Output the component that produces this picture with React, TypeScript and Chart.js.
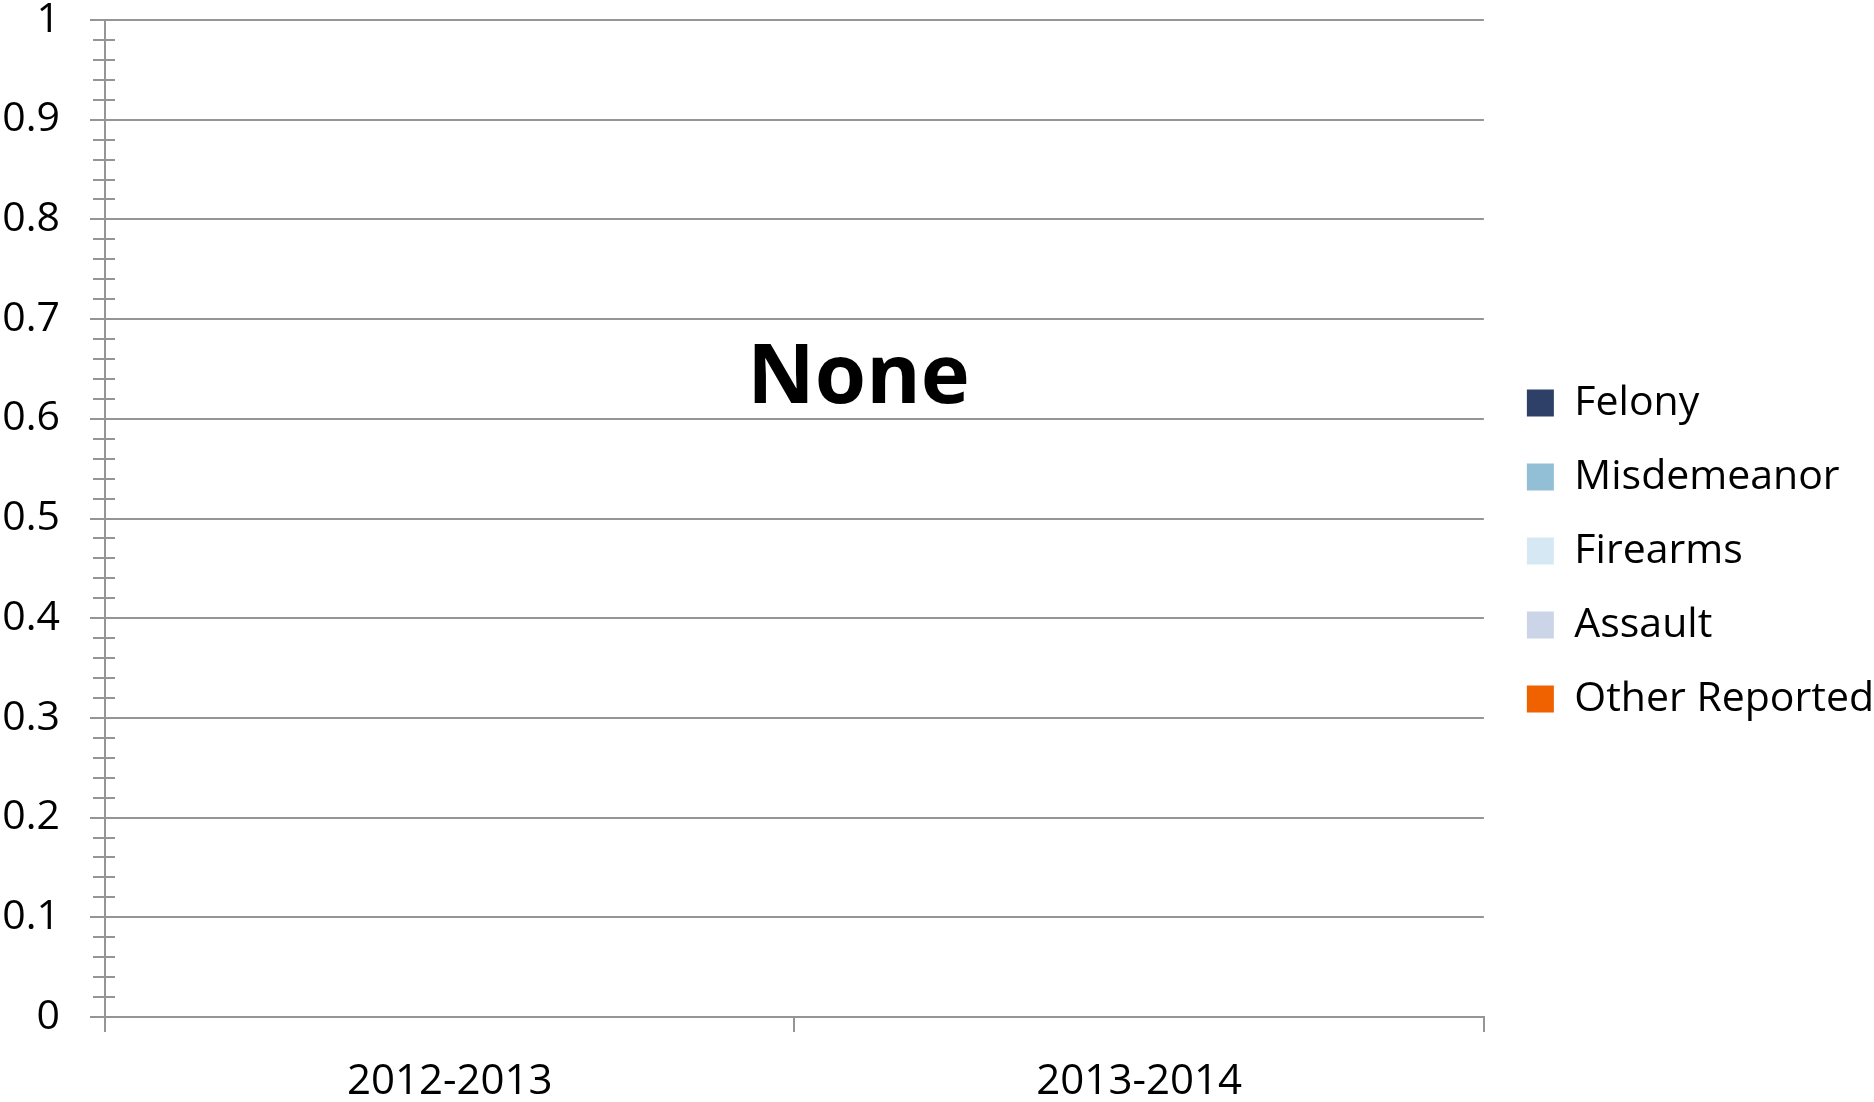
import React, { useEffect, useRef } from 'react';
import { Chart, registerables } from 'chart.js';

Chart.register(...registerables);

const categories = ['2012-2013', '2013-2014'];
const seriesNames = ['Felony', 'Misdemeanor', 'Firearms', 'Assault', 'Other Reported'];
const seriesColors = ['#2E4068', '#92BFD6', '#D7E8F5', '#CCD5E8', '#F06100'];
const felony = [0, 0];
const misdemeanor = [0, 0];
const firearms = [0, 0];
const assault = [0, 0];
const otherReported = [0, 0];
const seriesValues = [felony, misdemeanor, firearms, assault, otherReported];
const yTickLabels = ['0', '0.1', '0.2', '0.3', '0.4', '0.5', '0.6', '0.7', '0.8', '0.9', '1'];
const overlayText = 'None';

const FONT = "'Open Sans', sans-serif";
const GRID = '#959595';

const minorTicksPlugin = {
  id: 'minorTicks',
  afterDraw(chart: any) {
    const y = chart.scales.y;
    const ctx = chart.ctx;
    const x0 = chart.chartArea.left;
    ctx.save();
    ctx.strokeStyle = GRID;
    ctx.lineWidth = 2;
    for (let i = 0; i <= 50; i++) {
      if (i % 5 === 0) continue;
      const py = Math.round(y.getPixelForValue(i / 50));
      ctx.beginPath();
      ctx.moveTo(x0 - 12, py);
      ctx.lineTo(x0 + 10, py);
      ctx.stroke();
    }
    ctx.restore();
  },
};

const overlayPlugin = {
  id: 'overlayText',
  afterDraw(chart: any) {
    const { ctx, chartArea } = chart;
    const y = chart.scales.y;
    ctx.save();
    ctx.font = `bold 83px ${FONT}`;
    ctx.fillStyle = '#000';
    ctx.textAlign = 'center';
    ctx.textBaseline = 'alphabetic';
    ctx.fillText(overlayText, chartArea.left + chartArea.width * 0.5465, y.getPixelForValue(0.616));
    ctx.restore();
  },
};

// keeps a gap between the plot area and the legend keys
const legendGapPlugin = {
  id: 'legendGap',
  afterLayout(chart: any) {
    const l = chart.legend;
    if (l) {
      l.left += 10;
      l.right += 10;
    }
  },
};

export default function App() {
  const ref = useRef<HTMLCanvasElement | null>(null);
  useEffect(() => {
    let chart: any = null;
    let cancelled = false;
    const build = () => {
      if (cancelled || !ref.current) return;
      chart = new Chart(ref.current, {
        type: 'bar',
        data: {
          labels: categories,
          datasets: seriesNames.map((name, i) => ({
            label: name,
            data: seriesValues[i],
            backgroundColor: seriesColors[i],
            borderWidth: 0,
          })),
        },
        options: {
          responsive: false,
          animation: false,
          devicePixelRatio: 1,
          layout: { padding: 0 },
          plugins: {
            tooltip: { enabled: false },
            title: { display: false },
            legend: {
              position: 'right',
              align: 'center',
              labels: {
                boxWidth: 27,
                boxHeight: 27,
                padding: 33,
                color: '#000',
                font: { family: FONT, size: 41 },
              },
            },
          },
          scales: {
            x: {
              stacked: true,
              grid: { drawOnChartArea: false, drawTicks: true, tickLength: 15, color: GRID, lineWidth: 2, offset: true },
              border: { display: true, color: GRID, width: 2 },
              ticks: { color: '#000', padding: 25, font: { family: FONT, size: 42 } },
              afterFit: (s: any) => { s.height = 85; s.paddingLeft = 0; s.paddingRight = 0; },
            },
            y: {
              stacked: true,
              min: 0,
              max: 1,
              ticks: {
                stepSize: 0.1,
                color: '#000',
                padding: 30,
                font: { family: FONT, size: 41 },
                callback: (_v: any, i: number) => yTickLabels[i],
              },
              grid: { color: GRID, lineWidth: 2, tickLength: 15 },
              border: { display: true, color: GRID, width: 2 },
              afterFit: (s: any) => { s.width = 105; s.paddingTop = 20; s.paddingBottom = 0; },
            },
          },
        } as any,
        plugins: [minorTicksPlugin, overlayPlugin, legendGapPlugin],
      });
    };
    const fonts: any = (document as any).fonts;
    if (fonts && fonts.load) {
      Promise.all([
        fonts.load(`400 41px 'Open Sans'`),
        fonts.load(`bold 83px 'Open Sans'`),
      ]).then(build, build);
    } else {
      build();
    }
    return () => {
      cancelled = true;
      if (chart) chart.destroy();
    };
  }, []);
  return (
    <div style={{ position: 'absolute', left: 0, top: 0, width: 1874, height: 1102, background: '#fff' }}>
      <canvas ref={ref} width={1874} height={1102} style={{ display: 'block' }} />
    </div>
  );
}
